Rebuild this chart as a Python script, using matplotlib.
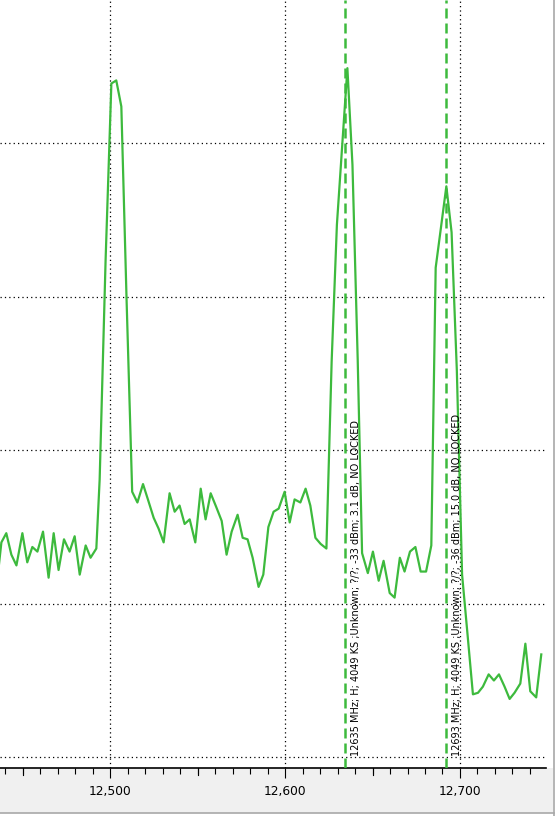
import matplotlib
matplotlib.use("Agg")
import matplotlib.pyplot as plt
from matplotlib.ticker import MultipleLocator, FuncFormatter
from matplotlib.lines import Line2D
from matplotlib.patches import Rectangle

# spectrum trace (MHz / dB)
freq_mhz = [12434.7, 12437.7, 12440.5, 12443.4, 12446.3, 12449.7, 12452.5, 12455.4, 12458.3, 12461.5,
            12464.7, 12467.6, 12470.4, 12473.5, 12476.7, 12479.6, 12482.5, 12485.9, 12488.7, 12492.0,
            12493.9, 12497.3, 12500.6, 12503.4, 12506.3, 12509.3, 12512.5, 12515.5, 12518.7, 12521.5,
            12524.8, 12527.6, 12530.5, 12533.9, 12536.8, 12539.6, 12542.5, 12545.4, 12548.6, 12551.7,
            12554.5, 12557.4, 12560.6, 12563.7, 12566.5, 12569.4, 12572.8, 12575.7, 12578.5, 12581.4,
            12584.8, 12587.5, 12590.4, 12593.4, 12596.3, 12599.7, 12602.6, 12605.4, 12608.7, 12611.7,
            12614.4, 12617.3, 12620.3, 12623.6, 12626.6, 12629.6, 12632.6, 12635.6, 12638.5, 12641.5,
            12644.0, 12647.3, 12650.2, 12653.5, 12656.3, 12659.8, 12662.6, 12665.6, 12668.3, 12671.4,
            12674.5, 12677.5, 12680.6, 12683.6, 12686.1, 12689.1, 12692.2, 12695.2, 12698.2, 12701.2,
            12704.4, 12707.4, 12710.3, 12713.1, 12716.4, 12719.4, 12722.3, 12725.5, 12728.4, 12731.2,
            12734.5, 12737.4, 12740.2, 12743.6, 12746.5]
level_db = [-49.1, -46.0, -45.4, -46.8, -47.5, -45.4, -47.3, -46.3, -46.6, -45.3,
            -48.3, -45.4, -47.8, -45.8, -46.6, -45.6, -48.1, -46.2, -47.0, -46.4,
            -41.9, -27.6, -16.1, -15.9, -17.6, -30.2, -42.7, -43.4, -42.2, -43.2,
            -44.4, -45.1, -46.0, -42.8, -44.0, -43.6, -44.8, -44.5, -46.0, -42.5,
            -44.5, -42.8, -43.7, -44.6, -46.8, -45.3, -44.2, -45.7, -45.8, -47.0,
            -48.9, -48.1, -45.0, -44.0, -43.8, -42.7, -44.7, -43.2, -43.4, -42.5,
            -43.6, -45.7, -46.1, -46.4, -34.2, -25.3, -20.2, -15.1, -21.4, -34.1,
            -46.7, -48.0, -46.6, -48.5, -47.2, -49.3, -49.6, -47.0, -47.9, -46.6,
            -46.3, -47.9, -47.9, -46.2, -28.1, -25.5, -22.8, -25.8, -34.8, -48.1,
            -52.1, -55.9, -55.8, -55.4, -54.6, -55.0, -54.6, -55.4, -56.2, -55.8,
            -55.2, -52.6, -55.7, -56.1, -53.3]

# detected carriers
marker_freq = [12635, 12693]
marker_text = ["12635 MHz; H; 4049 KS ;Unknown; ?/?; -33 dBm; 3.1 dB, NO LOCKED",
               "12693 MHz; H; 4049 KS ;Unknown; ?/?; -36 dBm; 15.0 dB, NO LOCKED"]

green = "#3dba3d"
W, H = 556, 816

fig = plt.figure(figsize=(W / 100, H / 100), dpi=100)
fig.patch.set_facecolor("white")

# grey strip under the plot
fig.patches.append(Rectangle((0, 3 / H), 553 / W, 45 / H, transform=fig.transFigure,
                             facecolor="#f0f0f0", edgecolor="none", zorder=-1))
fig.lines.append(Line2D([553.5 / W, 553.5 / W], [0, 1], transform=fig.transFigure,
                        color="#a8a8a8", lw=1.2))
fig.lines.append(Line2D([0, 553.5 / W], [3 / H, 3 / H], transform=fig.transFigure,
                        color="#a8a8a8", lw=1.2))

ax = fig.add_axes([0, 48 / H, 546 / W, 768 / H])
ax.set_xlim(12436.9, 12749.2)
ax.set_ylim(-60.7, -10.66)

ax.plot(freq_mhz, level_db, color=green, lw=1.6, zorder=3)

for f, t in zip(marker_freq, marker_text):
    ax.axvline(f - 1.0, color=green, lw=1.8, ls=(0, (4, 2)), zorder=4)
    ax.text(f + 5.4, -59.9, t, rotation=90, ha="center", va="bottom",
            fontsize=7.0, color="black", zorder=5)

# grid
ax.set_yticks([-20, -30, -40, -50, -60])
ax.xaxis.set_major_locator(MultipleLocator(100))
ax.xaxis.set_minor_locator(MultipleLocator(10))
ax.grid(True, which="major", color="black", lw=0.9, ls=(0, (1, 2.5)))
ax.set_axisbelow(True)

ax.xaxis.set_major_formatter(FuncFormatter(lambda v, p: f"{int(v):,}"))
ax.tick_params(axis="x", which="major", length=7, width=0.8, labelsize=8.8, pad=5)
ax.tick_params(axis="x", which="minor", length=4, width=0.8)
ax.tick_params(axis="y", left=False, labelleft=False)

# medium ticks at the 50 MHz marks
for f in [12450, 12550, 12650]:
    ax.plot([f, f], [0, -7 / 768], transform=ax.get_xaxis_transform(),
            color="black", lw=0.8, clip_on=False)

for s in ["left", "right", "top"]:
    ax.spines[s].set_visible(False)
ax.spines["bottom"].set_linewidth(1.2)

fig.savefig("out.png", dpi=100)
